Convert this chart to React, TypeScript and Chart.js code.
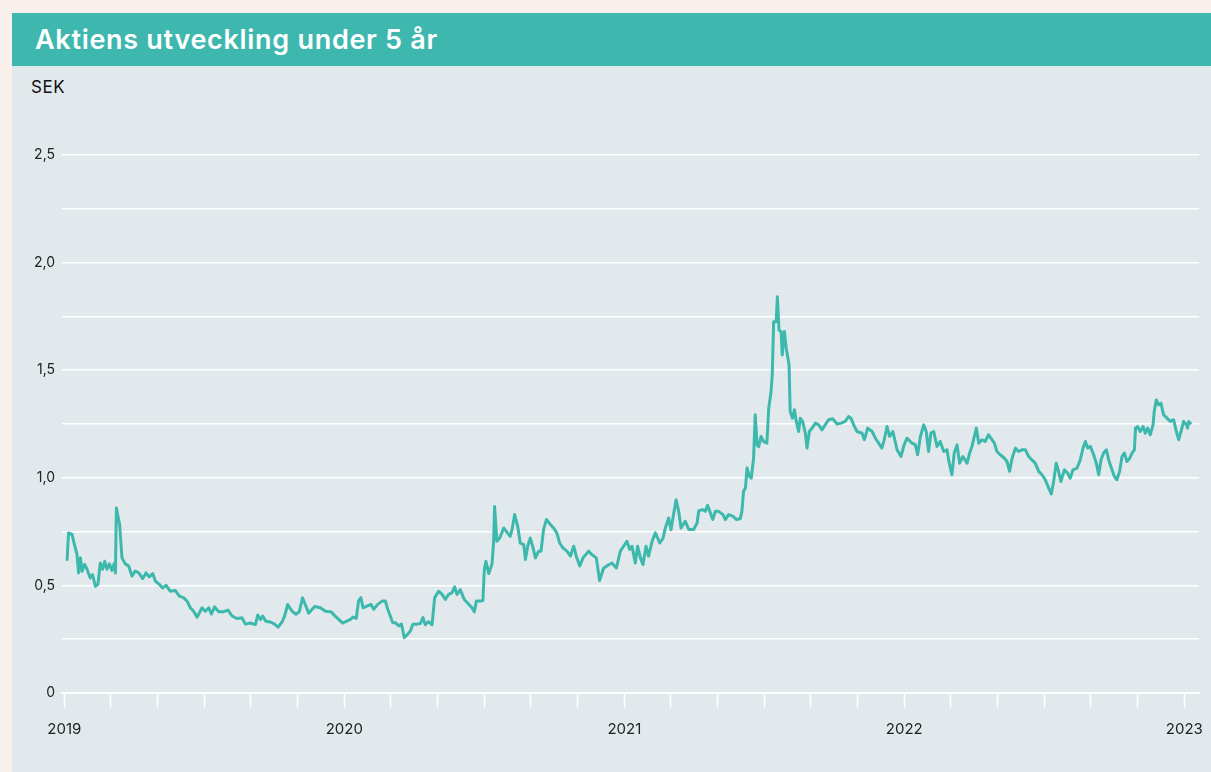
import React, { useEffect, useRef } from "react";
import { Chart, registerables } from "chart.js";

Chart.register(...registerables);

// Months since Jan 2019
const months: number[] = [
  0.12, 0.18, 0.33, 0.4, 0.54, 0.61, 0.69, 0.76, 0.87, 0.97, 1.11, 1.21, 1.33, 1.44, 1.54, 1.64, 1.73, 1.83, 1.93, 2.04,
  2.13, 2.19, 2.23, 2.37, 2.47, 2.61, 2.76, 2.9, 3.04, 3.19, 3.36, 3.5, 3.64, 3.79, 3.9, 4.07, 4.21, 4.36, 4.54, 4.76,
  4.93, 5.11, 5.26, 5.4, 5.54, 5.69, 5.9, 6.04, 6.19, 6.3, 6.44, 6.61, 6.83, 7.01, 7.19, 7.4, 7.61, 7.76, 7.97, 8.19,
  8.29, 8.4, 8.5, 8.64, 8.83, 9.01, 9.16, 9.33, 9.44, 9.57, 9.76, 9.93, 10.07, 10.21, 10.33, 10.47, 10.73, 10.97, 11.19, 11.44,
  11.61, 11.93, 12.04, 12.26, 12.37, 12.51, 12.61, 12.71, 12.8, 12.97, 13.14, 13.26, 13.43, 13.62, 13.76, 13.86, 13.97, 14.07, 14.19, 14.33,
  14.45, 14.57, 14.69, 14.83, 14.94, 15.11, 15.26, 15.37, 15.47, 15.61, 15.76, 15.87, 16.04, 16.19, 16.33, 16.47, 16.61, 16.73, 16.83, 16.97,
  17.14, 17.33, 17.47, 17.57, 17.66, 17.83, 17.94, 18.0, 18.07, 18.19, 18.33, 18.4, 18.44, 18.54, 18.66, 18.83, 19.0, 19.11, 19.19, 19.3,
  19.43, 19.54, 19.69, 19.76, 19.86, 19.97, 20.09, 20.19, 20.33, 20.43, 20.54, 20.66, 20.83, 20.97, 21.11, 21.23, 21.37, 21.54, 21.69, 21.83,
  21.94, 22.09, 22.23, 22.47, 22.61, 22.8, 22.94, 23.11, 23.33, 23.47, 23.66, 23.83, 23.97, 24.11, 24.23, 24.33, 24.47, 24.57, 24.69, 24.8,
  24.93, 25.04, 25.19, 25.33, 25.52, 25.66, 25.76, 25.9, 26.0, 26.11, 26.22, 26.33, 26.43, 26.61, 26.76, 26.97, 27.12, 27.19, 27.37, 27.47,
  27.57, 27.69, 27.79, 27.9, 28.04, 28.23, 28.33, 28.47, 28.66, 28.8, 28.97, 29.04, 29.11, 29.19, 29.26, 29.36, 29.44, 29.54, 29.61, 29.69,
  29.76, 29.86, 29.97, 30.11, 30.19, 30.29, 30.34, 30.4, 30.51, 30.56, 30.63, 30.72, 30.77, 30.86, 30.94, 31.06, 31.11, 31.21, 31.29, 31.37,
  31.47, 31.54, 31.64, 31.76, 31.83, 31.93, 32.04, 32.19, 32.33, 32.47, 32.61, 32.76, 32.93, 33.12, 33.29, 33.47, 33.61, 33.71, 33.83, 33.97,
  34.19, 34.29, 34.43, 34.62, 34.76, 34.9, 35.04, 35.14, 35.26, 35.37, 35.51, 35.69, 35.86, 35.97, 36.11, 36.33, 36.47, 36.57, 36.69, 36.83,
  36.94, 37.04, 37.14, 37.26, 37.4, 37.54, 37.69, 37.83, 37.91, 38.04, 38.14, 38.26, 38.37, 38.51, 38.69, 38.8, 38.9, 39.0, 39.09, 39.19,
  39.33, 39.47, 39.61, 39.76, 39.86, 39.97, 40.11, 40.29, 40.4, 40.51, 40.62, 40.76, 40.9, 41.04, 41.19, 41.33, 41.47, 41.61, 41.76, 41.9,
  42.04, 42.19, 42.3, 42.4, 42.51, 42.61, 42.71, 42.86, 43.0, 43.11, 43.23, 43.4, 43.54, 43.66, 43.76, 43.86, 43.97, 44.09, 44.23, 44.33,
  44.43, 44.54, 44.66, 44.76, 44.9, 45.0, 45.11, 45.23, 45.33, 45.43, 45.54, 45.66, 45.76, 45.86, 45.91, 46.0, 46.11, 46.23, 46.33, 46.43,
  46.54, 46.66, 46.71, 46.8, 46.9, 47.0, 47.11, 47.26, 47.4, 47.54, 47.66, 47.76, 47.86, 47.97, 48.09, 48.14, 48.19, 48.26,
];

// Share price, SEK
const prices: number[] = [
  0.62, 0.744, 0.737, 0.705, 0.645, 0.558, 0.628, 0.566, 0.598, 0.575, 0.535, 0.55, 0.496, 0.505, 0.604, 0.575, 0.612, 0.575, 0.6, 0.57,
  0.6, 0.558, 0.86, 0.782, 0.628, 0.6, 0.59, 0.543, 0.567, 0.558, 0.532, 0.558, 0.54, 0.555, 0.52, 0.505, 0.488, 0.5, 0.473, 0.476,
  0.45, 0.443, 0.427, 0.396, 0.38, 0.352, 0.396, 0.38, 0.396, 0.367, 0.4, 0.378, 0.378, 0.385, 0.358, 0.346, 0.35, 0.32, 0.325, 0.318,
  0.362, 0.341, 0.357, 0.333, 0.33, 0.32, 0.306, 0.33, 0.357, 0.411, 0.38, 0.366, 0.378, 0.442, 0.41, 0.371, 0.402, 0.396, 0.38, 0.377,
  0.357, 0.325, 0.331, 0.342, 0.353, 0.347, 0.427, 0.443, 0.396, 0.404, 0.412, 0.389, 0.412, 0.427, 0.427, 0.389, 0.358, 0.327, 0.327, 0.312,
  0.32, 0.257, 0.27, 0.288, 0.32, 0.32, 0.323, 0.35, 0.317, 0.332, 0.317, 0.442, 0.473, 0.458, 0.435, 0.458, 0.465, 0.493, 0.458, 0.48,
  0.435, 0.412, 0.396, 0.377, 0.427, 0.427, 0.43, 0.574, 0.612, 0.555, 0.6, 0.705, 0.867, 0.705, 0.72, 0.767, 0.743, 0.728, 0.76, 0.829,
  0.775, 0.697, 0.69, 0.62, 0.682, 0.72, 0.674, 0.628, 0.659, 0.659, 0.76, 0.806, 0.783, 0.767, 0.743, 0.697, 0.674, 0.659, 0.636, 0.682,
  0.636, 0.59, 0.628, 0.659, 0.643, 0.628, 0.523, 0.58, 0.596, 0.604, 0.581, 0.659, 0.682, 0.705, 0.667, 0.682, 0.604, 0.682, 0.628, 0.597,
  0.682, 0.636, 0.705, 0.744, 0.697, 0.72, 0.767, 0.813, 0.759, 0.829, 0.898, 0.844, 0.767, 0.798, 0.76, 0.76, 0.79, 0.847, 0.852, 0.844,
  0.872, 0.836, 0.806, 0.844, 0.844, 0.829, 0.806, 0.829, 0.821, 0.806, 0.81, 0.844, 0.937, 0.952, 1.045, 1.006, 0.998, 1.091, 1.293, 1.153,
  1.145, 1.192, 1.168, 1.161, 1.323, 1.401, 1.478, 1.725, 1.725, 1.841, 1.687, 1.68, 1.571, 1.68, 1.602, 1.525, 1.308, 1.277, 1.316, 1.262,
  1.215, 1.277, 1.262, 1.207, 1.138, 1.215, 1.23, 1.254, 1.246, 1.223, 1.246, 1.27, 1.274, 1.25, 1.254, 1.262, 1.285, 1.277, 1.246, 1.215,
  1.207, 1.177, 1.231, 1.215, 1.184, 1.161, 1.138, 1.177, 1.238, 1.192, 1.215, 1.13, 1.099, 1.146, 1.184, 1.161, 1.154, 1.107, 1.192, 1.246,
  1.215, 1.122, 1.208, 1.215, 1.146, 1.169, 1.122, 1.13, 1.076, 1.014, 1.115, 1.153, 1.068, 1.099, 1.068, 1.115, 1.146, 1.192, 1.231, 1.161,
  1.177, 1.169, 1.2, 1.177, 1.161, 1.122, 1.107, 1.091, 1.076, 1.03, 1.091, 1.138, 1.122, 1.13, 1.13, 1.099, 1.083, 1.068, 1.03, 1.014,
  0.991, 0.952, 0.925, 0.983, 1.068, 1.03, 0.983, 1.037, 1.022, 0.998, 1.037, 1.045, 1.083, 1.138, 1.169, 1.138, 1.146, 1.115, 1.068, 1.014,
  1.083, 1.115, 1.13, 1.083, 1.037, 1.007, 0.991, 1.03, 1.099, 1.115, 1.076, 1.091, 1.115, 1.13, 1.231, 1.238, 1.215, 1.238, 1.207, 1.231,
  1.2, 1.246, 1.308, 1.362, 1.339, 1.347, 1.293, 1.277, 1.262, 1.27, 1.215, 1.177, 1.215, 1.262, 1.246, 1.231, 1.262, 1.254,
];

const xTickMonths: number[] = [0, 2, 4, 6, 8, 10, 12, 14, 16, 18, 20, 22, 24, 26, 28, 30, 32, 34, 36, 38, 40, 42, 44, 46, 48];
const yTickValues: number[] = [0, 0.25, 0.5, 0.75, 1, 1.25, 1.5, 1.75, 2, 2.25, 2.5];
const startYear = 2019;

const TITLE = "Aktiens utveckling under 5 år";
const UNIT = "SEK";
const LINE_COLOR = "#3db8ac";
const FONT = "Inter, 'Open Sans', sans-serif";

export default function App() {
  const canvasRef = useRef<HTMLCanvasElement | null>(null);

  useEffect(() => {
    const canvas = canvasRef.current;
    if (!canvas) return;
    const data = months.map((m, i) => ({ x: m, y: prices[i] }));
    const chart = new Chart(canvas, {
      type: "line",
      data: {
        datasets: [
          {
            data,
            borderColor: LINE_COLOR,
            borderWidth: 3,
            pointRadius: 0,
            tension: 0,
            borderJoinStyle: "round",
            borderCapStyle: "round",
          },
        ],
      },
      options: {
        animation: false,
        responsive: false,
        layout: { padding: { left: 0, right: 12, top: 89, bottom: 0 } },
        plugins: { legend: { display: false }, tooltip: { enabled: false }, title: { display: false } },
        scales: {
          x: {
            type: "linear",
            min: -0.1,
            max: 48.63,
            afterBuildTicks: (axis: any) => {
              axis.ticks = xTickMonths.map((v) => ({ value: v }));
            },
            afterFit: (axis: any) => {
              axis.height = 79;
              axis.paddingLeft = 0;
              axis.paddingRight = 0;
              axis.paddingTop = 0;
              axis.paddingBottom = 0;
            },
            grid: {
              drawOnChartArea: false,
              drawTicks: true,
              tickLength: 15,
              tickColor: "#ffffff",
              tickWidth: 1.5,
              color: "#ffffff",
            },
            border: { display: true, color: "#ffffff", width: 2 },
            ticks: {
              autoSkip: false,
              maxRotation: 0,
              padding: 12,
              color: "#222222",
              font: { family: FONT, size: 15 },
              callback: (v: any) => (Number(v) % 12 === 0 ? String(startYear + Number(v) / 12) : ""),
            },
          },
          y: {
            type: "linear",
            min: 0,
            max: 2.5,
            afterBuildTicks: (axis: any) => {
              axis.ticks = yTickValues.map((v) => ({ value: v }));
            },
            afterFit: (axis: any) => {
              axis.width = 50;
              axis.paddingLeft = 0;
              axis.paddingRight = 0;
              axis.paddingTop = 0;
              axis.paddingBottom = 0;
            },
            grid: { color: "#ffffff", lineWidth: 1.5, drawTicks: false },
            border: { display: false },
            ticks: {
              padding: 7,
              color: "#222222",
              font: { family: FONT, size: 14 },
              callback: (v: any) => {
                const n = Number(v);
                if (Math.abs(n * 2 - Math.round(n * 2)) > 1e-6) return "";
                return n === 0 ? "0" : n.toFixed(1).replace(".", ",");
              },
            },
          },
        },
      },
    } as any);
    return () => chart.destroy();
  }, []);

  return (
    <div style={{ position: "fixed", inset: 0, background: "#faf0eb", overflow: "hidden" }}>
      <div style={{ position: "absolute", left: 12, top: 13, width: 1199, height: 759 }}>
        <div
          style={{
            height: 53,
            background: "#3eb8ae",
            color: "#ffffff",
            fontFamily: FONT,
            fontWeight: 600,
            fontSize: 27,
            letterSpacing: "0.7px",
            lineHeight: "53px",
            paddingLeft: 23,
            whiteSpace: "nowrap",
          }}
        >
          {TITLE}
        </div>
        <div style={{ position: "relative", height: 706, background: "#e2e9ec" }}>
          <div
            style={{
              position: "absolute",
              left: 19,
              top: 11,
              fontFamily: FONT,
              fontSize: 17,
              letterSpacing: "0.5px",
              lineHeight: "20px",
              color: "#111111",
            }}
          >
            {UNIT}
          </div>
          <canvas ref={canvasRef} width={1199} height={706} style={{ position: "absolute", left: 0, top: 0 }} />
        </div>
      </div>
    </div>
  );
}
